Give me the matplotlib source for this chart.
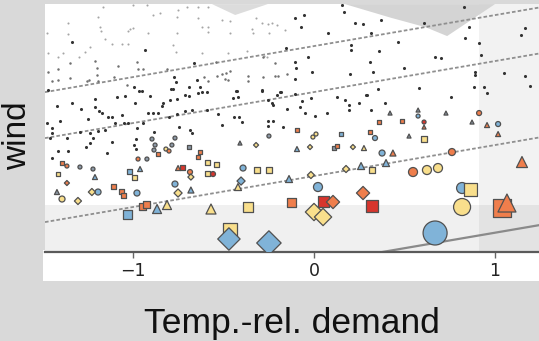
import numpy as np
import matplotlib.pyplot as plt
from matplotlib.patches import Polygon, Rectangle

# --- datos ---
# puntos lejanos (arriba, grises claros)
far_dots = [(-1.166, 2.45), (-1.000, 2.47), (-0.923, 2.47), (-1.193, 2.35), (-1.359, 2.29), (-0.890, 2.37),
            (-0.851, 2.39), (-0.751, 2.42), (-0.702, 2.45), (-0.641, 2.45), (-0.586, 2.45), (-0.757, 2.35),
            (-0.641, 2.34), (-0.508, 2.32), (-0.464, 2.31), (-0.320, 2.34), (-0.287, 2.29), (-0.254, 2.28),
            (-0.232, 2.29), (-0.204, 2.27), (-0.160, 2.22), (-0.619, 2.25), (-0.586, 2.25), (-0.586, 2.20),
            (-0.464, 2.19), (-0.343, 2.23), (-0.337, 2.19), (-0.249, 2.19), (-1.017, 2.23), (-1.000, 2.24),
            (-1.028, 2.21), (-0.917, 2.19), (-0.757, 2.19), (-1.182, 2.25), (-1.177, 2.21), (-1.475, 2.19),
            (-1.359, 2.18), (-1.155, 2.13), (-1.238, 2.05), (-1.116, 2.08), (-1.061, 2.08), (-1.028, 2.08),
            (-0.779, 2.07), (-0.762, 2.00), (-0.619, 1.99), (-0.475, 1.99), (-0.370, 2.01), (-0.276, 1.96),
            (-0.260, 1.95), (-1.470, 1.99), (-1.387, 1.99), (-1.414, 1.95), (-1.298, 1.95), (-1.265, 2.00)]

mid_dots = [(-1.210, 1.91), (-1.348, 1.89), (-1.470, 1.80), (-1.414, 1.83), (-1.199, 1.84), (-1.083, 1.86),
            (-0.978, 1.90), (-1.199, 1.77), (-0.972, 1.83), (-0.945, 1.83), (-0.812, 1.83), (-0.541, 1.90),
            (-0.215, 1.89), (-0.282, 1.95), (-1.448, 1.71), (-1.414, 1.72), (-1.348, 1.74), (-1.254, 1.71),
            (-1.243, 1.72), (-1.193, 1.71), (-1.105, 1.75), (-1.033, 1.67), (-0.608, 1.75), (-0.586, 1.71),
            (-0.536, 1.76), (-0.508, 1.78), (-0.486, 1.79), (-0.464, 1.81), (-0.492, 1.73), (-0.475, 1.72),
            (-0.365, 1.76), (-0.365, 1.71), (-0.282, 1.75), (-0.215, 1.76), (-0.199, 1.76), (-0.149, 1.78)]

near_dots = [(-1.337, 2.10), (-0.934, 2.02), (-0.155, 2.04), (-0.663, 1.89), (-0.994, 1.65), (-0.950, 1.61),
             (-0.967, 1.61), (-0.773, 1.75), (-0.762, 1.70), (-0.790, 1.63), (-0.779, 1.63), (-0.691, 1.65),
             (-0.646, 1.72), (-0.591, 1.60), (-0.630, 1.65), (-0.619, 1.60), (-0.425, 1.61), (-0.287, 1.61),
             (-0.188, 1.60),
             (-0.055, 2.37), (-0.105, 2.34), (0.155, 2.47), (0.166, 2.40), (-0.072, 2.25), (0.077, 2.19),
             (0.227, 2.29), (0.271, 2.28), (0.370, 2.32), (0.315, 2.19), (0.608, 2.29), (0.829, 2.45),
             (0.856, 2.25), (0.834, 2.14), (0.912, 2.09), (0.204, 2.07), (0.204, 2.02), (0.464, 2.10),
             (0.359, 2.01), (1.166, 2.24), (1.144, 2.17), (-0.105, 1.90), (-0.099, 1.84), (-0.105, 1.73),
             (-0.011, 1.80), (-0.033, 1.95), (0.199, 1.78), (0.309, 1.90), (0.326, 1.80), (0.497, 1.84),
             (0.669, 1.95), (0.702, 1.94), (0.923, 1.97), (0.890, 1.80), (0.890, 1.77), (1.050, 1.79),
             (1.166, 1.76), (1.193, 1.66), (0.884, 1.65), (0.939, 1.65), (0.956, 1.59), (0.580, 1.64),
             (0.354, 1.63), (0.287, 1.57), (-0.105, 1.58),
             (-1.470, 1.62), (-1.420, 1.46), (-1.337, 1.49), (-1.210, 1.53), (-1.210, 1.45), (-1.287, 1.43),
             (-1.188, 1.41), (-1.171, 1.39), (-1.088, 1.55), (-1.044, 1.56), (-0.989, 1.49), (-0.906, 1.56),
             (-0.840, 1.46), (-0.834, 1.49), (-0.796, 1.52), (-0.757, 1.53), (-0.713, 1.57), (-0.691, 1.56),
             (-0.641, 1.59), (-0.862, 1.39), (-0.917, 1.39), (-0.890, 1.39), (-0.801, 1.35), (-0.757, 1.38),
             (-0.713, 1.41), (-0.674, 1.42), (-0.591, 1.42), (-1.403, 1.31), (-1.249, 1.33), (-1.138, 1.35),
             (-1.116, 1.35), (-1.061, 1.37), (-0.945, 1.29), (-1.050, 1.29), (-1.028, 1.29), (-1.099, 1.29),
             (-1.448, 1.24), (-1.475, 1.29), (-1.448, 1.19), (-1.459, 1.14), (-1.365, 1.14), (-1.293, 1.20),
             (-1.238, 1.19), (-1.193, 1.21), (-1.155, 1.22), (-0.978, 1.24), (-0.884, 1.20), (-0.746, 1.25),
             (-0.685, 1.22), (-0.674, 1.19), (-1.221, 1.14), (-0.983, 1.13), (-1.116, 1.10), (-1.238, 1.09),
             (-1.260, 1.05), (-1.414, 1.01), (-1.359, 1.01), (-1.448, 0.94), (-1.144, 0.99), (-0.994, 1.07),
             (-0.983, 1.03),
             (-0.431, 1.61), (-0.448, 1.54), (-0.420, 1.55), (-0.287, 1.62), (-0.204, 1.57), (-0.182, 1.60),
             (-0.254, 1.52), (-0.232, 1.49), (-0.227, 1.47), (-0.066, 1.51), (-0.017, 1.54), (-0.077, 1.45),
             (0.127, 1.55), (0.171, 1.52), (0.193, 1.47), (0.193, 1.42), (0.249, 1.49), (0.293, 1.57),
             (0.315, 1.42), (-0.149, 1.43), (-0.050, 1.39), (0.006, 1.36), (0.072, 1.39), (-0.530, 1.38),
             (-0.442, 1.35), (-0.414, 1.35), (-0.398, 1.30), (-0.508, 1.27), (-0.254, 1.31), (-0.227, 1.31),
             (-0.254, 1.26), (-0.171, 1.25), (0.392, 1.49), (0.757, 1.55)]

# marcadores de color: (x, y, magnitud, categoria)
circles = [(0.669, 0.19, 24, 'B'), (0.818, 0.45, 17, 'Y'), (0.818, 0.64, 11, 'B'), (0.022, 0.65, 9, 'B'),
           (0.547, 0.80, 9, 'O'), (0.624, 0.82, 9, 'Y'), (0.685, 0.84, 9, 'Y'), (0.762, 1.00, 7, 'O'),
           (0.376, 0.99, 6, 'B'), (0.337, 1.14, 5, 'B'), (1.017, 1.28, 5, 'B'), (0.912, 1.39, 5, 'O'),
           (0.575, 1.36, 4, 'B'), (0.608, 1.30, 4, 'R'), (-0.392, 0.84, 6, 'B'), (-0.978, 0.59, 6, 'B'),
           (-1.193, 0.60, 6, 'B'), (-1.392, 0.53, 6, 'Y'), (-0.768, 0.68, 6, 'B'), (-0.685, 0.80, 5, 'O'),
           (-0.558, 0.78, 5, 'R'), (-0.972, 0.93, 4, 'O'), (-0.923, 0.93, 4, 'G'), (-1.365, 0.86, 4, 'O'),
           (-1.293, 0.85, 4, 'G'), (-1.221, 0.83, 4, 'G'), (-0.895, 1.13, 4, 'G'), (-0.878, 1.07, 4, 'G'),
           (-0.785, 1.07, 4, 'G'), (-0.768, 1.14, 4, 'G'), (-0.818, 1.03, 4, 'Y'), (-0.801, 1.01, 4, 'O'),
           (-0.006, 1.15, 4, 'Y'), (0.011, 1.18, 4, 'Y'), (-0.249, 1.16, 4, 'G'), (-0.884, 1.02, 4, 'G')]

squares = [(-0.464, 0.22, 14, 'Y'), (-0.365, 0.45, 10, 'Y'), (-0.122, 0.50, 9, 'O'), (0.055, 0.51, 11, 'R'),
           (0.320, 0.46, 12, 'R'), (0.862, 0.63, 13, 'Y'), (1.039, 0.44, 18, 'O'), (-1.028, 0.38, 9, 'B'),
           (-0.945, 0.46, 7, 'O'), (-0.923, 0.48, 7, 'O'), (-1.105, 0.66, 5, 'O'), (-1.066, 0.61, 5, 'O'),
           (-1.050, 0.57, 5, 'O'), (-1.414, 0.78, 4, 'Y'), (-0.989, 0.75, 5, 'Y'), (-0.729, 0.85, 5, 'R'),
           (-0.630, 1.00, 4, 'O'), (-0.641, 0.95, 4, 'O'), (-0.586, 0.90, 5, 'Y'), (-0.536, 0.88, 5, 'Y'),
           (-0.586, 0.79, 5, 'Y'), (-1.017, 0.81, 5, 'B'), (-1.392, 0.89, 4, 'O'), (-0.315, 0.82, 6, 'Y'),
           (-0.249, 0.82, 6, 'Y'), (-0.094, 1.22, 4, 'O'), (0.149, 1.18, 4, 'B'), (0.110, 1.04, 4, 'G'),
           (0.127, 1.06, 4, 'O'), (0.320, 0.82, 6, 'Y'), (0.309, 1.20, 4, 'O'), (0.359, 1.30, 4, 'O'),
           (0.486, 1.31, 4, 'O'), (0.608, 1.13, 6, 'Y'), (-0.862, 0.98, 4, 'O'), (-0.691, 1.05, 4, 'G')]

triangles = [(1.066, 0.49, 18, 'O'), (1.149, 0.90, 11, 'O'), (-0.569, 0.43, 10, 'Y'), (-0.867, 0.43, 9, 'B'),
             (-0.812, 0.47, 9, 'Y'), (-0.138, 0.73, 7, 'B'), (0.260, 0.86, 7, 'B'), (0.398, 0.89, 7, 'B'),
             (-0.420, 0.65, 7, 'Y'), (-0.680, 0.62, 6, 'B'), (-1.420, 0.60, 5, 'G'), (-1.210, 0.75, 5, 'B'),
             (-0.961, 0.83, 5, 'B'), (-0.751, 0.84, 5, 'O'), (0.436, 0.99, 6, 'O'), (0.276, 1.04, 5, 'Y'),
             (-0.094, 1.03, 5, 'B'), (-0.409, 1.09, 4, 'G'), (0.525, 1.16, 4, 'G'), (0.420, 1.39, 4, 'G'),
             (0.575, 1.42, 4, 'G'), (0.608, 1.25, 4, 'O'), (0.729, 1.39, 4, 'G'), (0.873, 1.30, 4, 'G'),
             (0.956, 1.27, 5, 'O'), (1.017, 1.18, 5, 'O')]

diamonds = [(-0.470, 0.13, 22, 'B'), (-0.249, 0.09, 24, 'B'), (0.000, 0.40, 17, 'Y'), (0.050, 0.35, 17, 'Y'),
            (0.105, 0.50, 13, 'O'), (0.271, 0.59, 13, 'O'), (-0.017, 0.77, 7, 'Y'), (0.177, 0.83, 7, 'Y'),
            (-0.403, 0.71, 8, 'B'), (-0.751, 0.59, 8, 'Y'), (-1.227, 0.60, 7, 'Y'), (-1.304, 0.51, 7, 'Y'),
            (-1.365, 0.69, 5, 'O'), (-0.320, 1.07, 5, 'Y'), (-0.022, 1.05, 5, 'Y'), (0.215, 1.05, 5, 'Y'),
            (-0.680, 0.75, 6, 'Y')]

# rectas diagonales: pendiente comun y ordenadas en x=0
line_slope = 0.31
dashed_icpt = [2.06, 1.60, 0.76]
solid_icpt = [-0.117]

# zonas sombreadas
band_top = 0.47
right_zone_x = 0.912

xticks = [-1, 0, 1]
xlabels = ['\u22121', '0', '1']

palette = {'B': '#80b3d8', 'Y': '#f9df8c', 'O': '#ef7e4c', 'R': '#d7352d', 'G': '#8c98a5'}

# --- figura ---
fig = plt.figure(figsize=(5.39, 3.41), dpi=100, facecolor='#d9d9d9')
fig.patches.append(Rectangle((0.0798, 0.176), 0.93, 0.09, transform=fig.transFigure,
                             facecolor='white', edgecolor='none', zorder=-1))
ax = fig.add_axes([0.0835, 0.261, 0.9165, 0.727])
ax.set_facecolor('white')
ax.set_xlim(-1.486, 1.243)
ax.set_ylim(0, 2.48)

ax.axhspan(0, band_top, color='black', alpha=0.06, lw=0, zorder=0.5)
ax.axvspan(right_zone_x, 2, color='black', alpha=0.05, lw=0, zorder=0.5)

# reflejos grises arriba (forma de cuña)
ax.add_patch(Polygon([(0.607, 1.0), (0.70, 0.945), (0.77, 0.907), (0.814, 0.871), (0.911, 1.0)],
                     closed=True, transform=ax.transAxes, facecolor='#d4d4d4', edgecolor='none', zorder=0.6))
ax.add_patch(Polygon([(0.338, 1.0), (0.385, 0.956), (0.451, 1.0)],
                     closed=True, transform=ax.transAxes, facecolor='#dcdcdc', edgecolor='none', zorder=0.6))

for b in dashed_icpt:
    ax.axline((0, b), slope=line_slope, color='#8f8f8f', lw=1.3, ls=(0, (2, 1.2)), zorder=1)
for b in solid_icpt:
    ax.axline((0, b), slope=line_slope, color='#8a8a8a', lw=1.6, zorder=1)

fd = np.array(far_dots)
md = np.array(mid_dots)
nd = np.array(near_dots)
ax.scatter(fd[:, 0], fd[:, 1], s=2.2, color='#a5a5a5', lw=0, zorder=2)
ax.scatter(md[:, 0], md[:, 1], s=3.2, color='#707070', lw=0, zorder=2)
ax.scatter(nd[:, 0], nd[:, 1], s=5, color='#333333', lw=0, zorder=2)


def draw(points, marker, k, z):
    x = [p[0] for p in points]
    y = [p[1] for p in points]
    s = [(p[2] * 0.72 * k) ** 2 for p in points]
    c = [palette[p[3]] for p in points]
    ax.scatter(x, y, s=s, c=c, marker=marker, edgecolors='#505050', linewidths=0.9, zorder=z)


draw(circles, 'o', 1.0, 3)
draw(squares, 's', 1.0, 4)
draw(triangles, '^', 1.0, 5)
draw(diamonds, 'D', 0.72, 6)

for side in ['left', 'top', 'right']:
    ax.spines[side].set_visible(False)
ax.spines['bottom'].set_color('#5a5a5a')
ax.spines['bottom'].set_linewidth(1.6)
ax.set_yticks([])
ax.set_xticks(xticks)
ax.set_xticklabels(xlabels)
ax.tick_params(axis='x', direction='out', length=4, width=1, color='#666666',
               labelsize=12.5, labelcolor='#222222', pad=3)

ax.set_xlabel('Temp.-rel. demand', fontsize=25.5, family='Liberation Sans', color='#111111')
ax.xaxis.label.set_va('center')
ax.xaxis.set_label_coords(0.5, -0.29)
ax.set_ylabel('wind', fontsize=24, family='Liberation Sans', color='#111111')
ax.yaxis.label.set_va('center')
ax.yaxis.set_label_coords(-0.055, 0.47)

fig.savefig('out.png', dpi=100, facecolor=fig.get_facecolor())
